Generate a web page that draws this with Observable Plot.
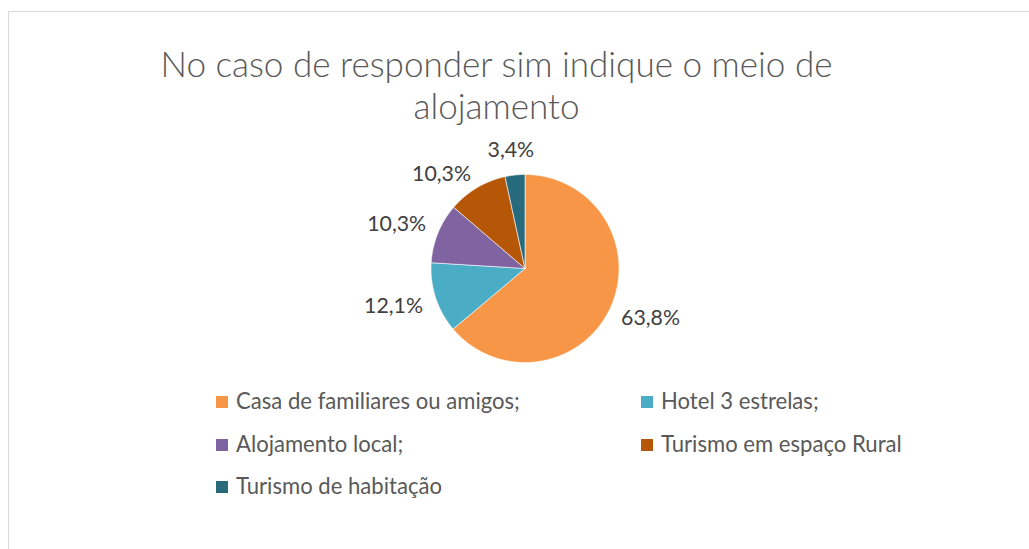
<!DOCTYPE html>
<html>
<head>
<meta charset="utf-8">
<script src="https://cdn.jsdelivr.net/npm/d3@7"></script>
<script src="https://cdn.jsdelivr.net/npm/@observablehq/plot@0.6"></script>
<style>
  body { margin: 0; background: #fff; font-family: Lato, "Open Sans", sans-serif; }
  #page { position: relative; width: 1029px; height: 549px; overflow: hidden; background: #fff; }
  #frame { position: absolute; left: 8px; top: 11px; width: 1100px; height: 600px; border: 1px solid #d9d9d9; box-sizing: border-box; }
  .title { position: absolute; left: 0; width: 993px; text-align: center; color: #595959; white-space: nowrap; font-weight: 300; }
  #chart { position: absolute; left: 0; top: 135px; }
  .sw { position: absolute; width: 12px; height: 12px; }
  .lt { position: absolute; color: #595959; white-space: nowrap; }
</style>
</head>
<body>
<div id="page">
  <div id="frame"></div>
  <div id="t1" class="title"></div>
  <div id="t2" class="title"></div>
  <div id="chart"></div>
  <div id="legend"></div>
</div>
<script>
// ---- data ----
const titleLines = ["No caso de responder sim indique o meio de", "alojamento"];
const categories = ["Casa de familiares ou amigos;", "Hotel 3 estrelas;", "Alojamento local;", "Turismo em espaço Rural", "Turismo de habitação"];
const values = [63.8, 12.1, 10.3, 10.3, 3.4];
const valueLabels = ["63,8%", "12,1%", "10,3%", "10,3%", "3,4%"];
const colors = ["#F79646", "#4BACC6", "#8064A2", "#B65708", "#276A7C"];

// ---- text fitting helper ----
const ctx = document.createElement("canvas").getContext("2d");
function measure(text, size, weight) {
  ctx.font = `${weight} ${size}px Lato`;
  return ctx.measureText(text).width;
}
function fitSize(text, target, weight) { return 100 * target / measure(text, 100, weight); }

// ---- title ----
const tSize = fitSize(titleLines[0], 673, 300);
const centersY = [65, 107];
["t1", "t2"].forEach((id, i) => {
  const el = document.getElementById(id);
  el.textContent = titleLines[i];
  el.style.fontSize = tSize + "px";
  el.style.lineHeight = tSize + "px";
  el.style.top = (centersY[i] - 0.53 * tSize) + "px";
});

// ---- pie ----
const R = 94;            // pixel radius
const W = 1029, H = 245, top0 = 135;
const cx = 524.5, cy = 268;
const pie = d3.pie().sort(null).value(d => d.v).startAngle(0).endAngle(2 * Math.PI);
const rows = categories.map((c, i) => ({cat: c, v: values[i], label: valueLabels[i]}));
const arcs = pie(rows);

const poly = [];
arcs.forEach(a => {
  poly.push({cat: a.data.cat, x: 0, y: 0});
  const n = Math.max(2, Math.ceil((a.endAngle - a.startAngle) / (Math.PI / 360)));
  for (let k = 0; k <= n; k++) {
    const t = a.startAngle + (a.endAngle - a.startAngle) * k / n;
    poly.push({cat: a.data.cat, x: Math.sin(t), y: Math.cos(t)});
  }
  poly.push({cat: a.data.cat, x: 0, y: 0});
});

// outside-end labels: anchor at R+gap along the mid angle, box attached by angle
const lSize = fitSize("63,8%", 59, 400);
const gap = 15;
const halfH = 0.45 * lSize;
function place(label, ang) {
  const w = measure(label, lSize, 400);
  const ux = Math.sin(ang), uy = Math.cos(ang); // uy upward
  const px = ux * (R + gap) + ux * w / 2;
  const py = uy * (R + gap) + uy * halfH;
  return {label, ang, w, px, py};
}
const labels = arcs.map(a => place(a.data.label, (a.startAngle + a.endAngle) / 2));
// simple collision avoidance: rotate an earlier label counter-clockwise away from the next one
const pad = 18;
function overlaps(a, b) {
  return Math.abs(a.px - b.px) < (a.w + b.w) / 2 + pad && Math.abs(a.py - b.py) < 2 * halfH + 4;
}
for (let i = labels.length - 2; i >= 0; i--) {
  let L = labels[i];
  let guard = 0;
  while (overlaps(L, labels[i + 1]) && guard++ < 200) {
    L = place(L.label, L.ang - Math.PI / 720);
  }
  labels[i] = L;
}
const labelData = labels.map(l => ({label: l.label, x: l.px / R, y: l.py / R}));

const chart = Plot.plot({
  width: W,
  height: H,
  marginLeft: cx - R,
  marginRight: W - (cx + R),
  marginTop: cy - R - top0,
  marginBottom: (top0 + H) - (cy + R),
  x: {domain: [-1, 1], axis: null},
  y: {domain: [-1, 1], axis: null},
  color: {domain: categories, range: colors},
  style: {background: "transparent", overflow: "visible"},
  marks: [
    Plot.line(poly, {x: "x", y: "y", z: "cat", fill: "cat", stroke: "#fff", strokeWidth: 0.6, curve: "linear"}),
    Plot.text(labelData, {x: "x", y: "y", text: "label", fill: "#404040", fontSize: lSize, fontFamily: "Lato", textAnchor: "middle"})
  ]
});
document.getElementById("chart").appendChild(chart);

// ---- legend ----
const legSize = fitSize(categories[0], 284, 400);
const legend = document.getElementById("legend");
categories.forEach((c, i) => {
  const col = i % 2, row = Math.floor(i / 2);
  const sx = col ? 641 : 216;
  const yc = 402 + row * 42.5;
  const sw = document.createElement("div");
  sw.className = "sw";
  sw.style.left = sx + "px";
  sw.style.top = (yc - 6) + "px";
  sw.style.background = colors[i];
  legend.appendChild(sw);
  const t = document.createElement("div");
  t.className = "lt";
  t.textContent = c;
  t.style.fontSize = legSize + "px";
  t.style.lineHeight = legSize + "px";
  t.style.left = (sx + 20) + "px";
  t.style.top = (yc - 0.53 * legSize) + "px";
  legend.appendChild(t);
});
</script>
</body>
</html>
